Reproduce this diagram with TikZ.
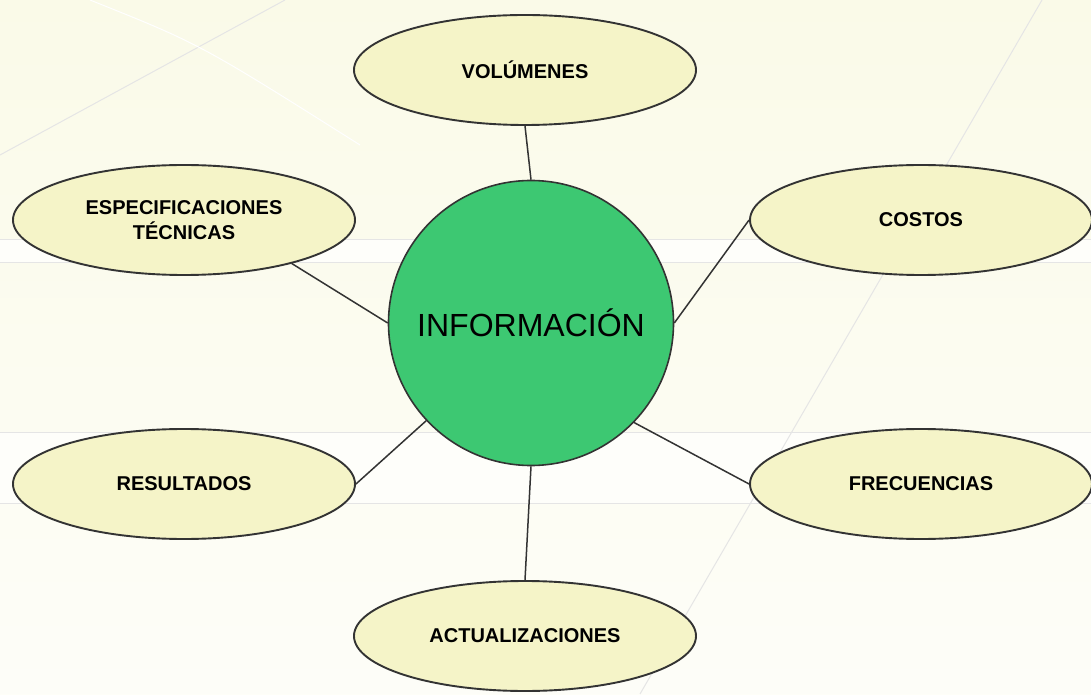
\documentclass[tikz,border=0pt]{standalone}
\usepackage{fontspec}
\setmainfont{Liberation Sans}
\usetikzlibrary{shapes, positioning}
\definecolor{fondo}{HTML}{FAFAE8}
\definecolor{crema}{HTML}{F5F4C8}
\definecolor{verde}{HTML}{3DC872}
\definecolor{borde}{HTML}{333333}
\tikzstyle{tema} = [ellipse, minimum width=342pt, minimum height=110pt, inner sep=0pt, align=center, text centered, draw=borde, line width=1.9pt, fill=crema, font=\fontsize{20}{25}\selectfont\bfseries]
\tikzstyle{centro} = [circle, minimum size=285pt, inner sep=0pt, text centered, draw=borde, line width=1.6pt, fill=verde, font=\fontsize{32}{34}\selectfont]
\tikzstyle{raya} = [draw=borde, line width=1.5pt]
\tikzstyle{guia} = [draw=black!10, line width=1pt]

\begin{document}
\begin{tikzpicture}[x=1pt, y=1pt, node distance=253pt]
\useasboundingbox (0,0) rectangle (1091,694);
\shade[top color=fondo, bottom color=white!70!fondo] (0,0) rectangle (1091,694);
\fill[white!80!fondo] (0,431) rectangle (1091,454);
\fill[white!80!fondo] (0,191) rectangle (1091,262);
% background guides
\draw[guia] (0,454) -- (1091,454);
\draw[guia] (0,431) -- (1091,431);
\draw[guia] (0,262) -- (1091,262);
\draw[guia] (0,191) -- (1091,191);
\draw[guia] (0,539) -- (285,694);
\draw[guia] (1042,694) -- (640,0);
\draw[white, line width=1pt] (90,694) .. controls (200,650) .. (360,549);
\node (info) [centro] at (531,371) {INFORMACIÓN};
\node (vol) [tema, above of=info, xshift=-6pt] {VOLÚMENES};
\node (esp) [tema, left of=info, xshift=-94pt, yshift=103pt] {ESPECIFICACIONES\\TÉCNICAS};
\node (res) [tema, below of=esp, yshift=-11pt] {RESULTADOS};
\node (costos) [tema, right of=info, xshift=137pt, yshift=103pt] {COSTOS};
\node (frec) [tema, below of=costos, yshift=-11pt] {FRECUENCIAS};
\node (act) [tema, below of=info, xshift=-6pt, yshift=-60pt] {ACTUALIZACIONES};
\draw [raya] (vol.south) -- (info.north);
\draw [raya] (esp.-22) -- (info.west);
\draw [raya] (costos.west) -- (info.east);
\draw [raya] (res.east) -- (info.-137);
\draw [raya] (frec.west) -- (info.-44);
\draw [raya] (act.north) -- (info.south);
\end{tikzpicture}
\end{document}
